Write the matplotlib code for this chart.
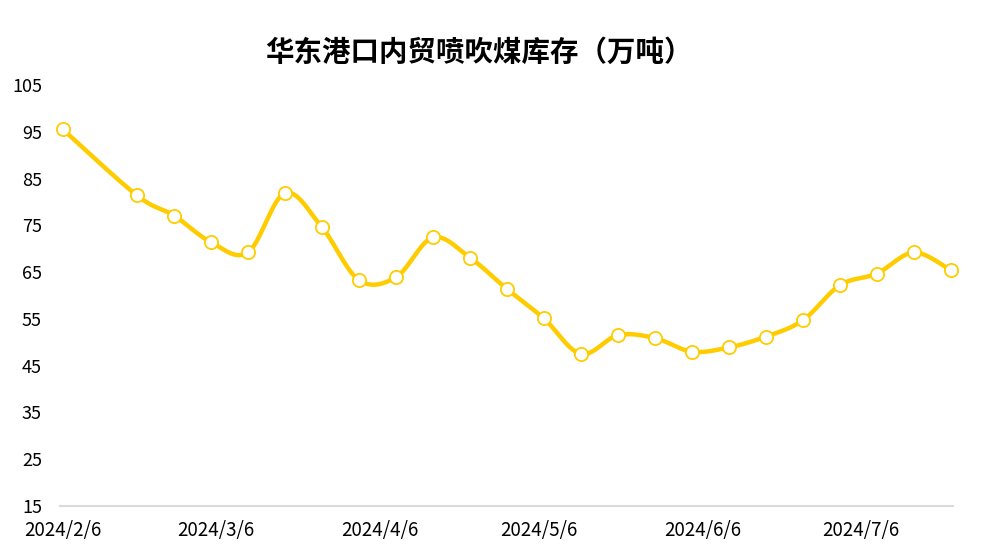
import numpy as np
import pandas as pd
import matplotlib
matplotlib.use("Agg")
import matplotlib.pyplot as plt
import matplotlib.dates as mdates
from matplotlib.ticker import FuncFormatter

plt.rcParams['font.family'] = ['Noto Sans CJK SC', 'DejaVu Sans']

# weekly stock data (10k tonnes)
dates = ["2024-02-06", "2024-02-20", "2024-02-27", "2024-03-05", "2024-03-12",
         "2024-03-19", "2024-03-26", "2024-04-02", "2024-04-09", "2024-04-16",
         "2024-04-23", "2024-04-30", "2024-05-07", "2024-05-14", "2024-05-21",
         "2024-05-28", "2024-06-04", "2024-06-11", "2024-06-18", "2024-06-25",
         "2024-07-02", "2024-07-09", "2024-07-16", "2024-07-23"]
stock = [95.5, 81.4, 77.1, 71.4, 69.2, 81.9, 74.6, 63.3, 63.9, 72.4,
         68.1, 61.4, 55.1, 47.5, 51.5, 50.9, 48.0, 48.9, 51.2, 54.7,
         62.2, 64.7, 69.2, 65.4]
y_ticks = [15, 25, 35, 45, 55, 65, 75, 85, 95, 105]
title = "华东港口内贸喷吹煤库存（万吨）"

x = mdates.date2num(pd.to_datetime(dates))
y = np.array(stock)

# smooth line like excel (catmull-rom)
xs, ys = [], []
n = len(x)
for i in range(n - 1):
    p0 = (x[max(i - 1, 0)], y[max(i - 1, 0)])
    p1 = (x[i], y[i])
    p2 = (x[i + 1], y[i + 1])
    p3 = (x[min(i + 2, n - 1)], y[min(i + 2, n - 1)])
    c1 = (p1[0] + (p2[0] - p0[0]) / 6, p1[1] + (p2[1] - p0[1]) / 6)
    c2 = (p2[0] - (p3[0] - p1[0]) / 6, p2[1] - (p3[1] - p1[1]) / 6)
    t = np.linspace(0, 1, 30)
    for a, b in [(0, xs), (1, ys)]:
        b.extend((1 - t) ** 3 * p1[a] + 3 * (1 - t) ** 2 * t * c1[a]
                 + 3 * (1 - t) * t ** 2 * c2[a] + t ** 3 * p2[a])

fig = plt.figure(figsize=(9.93, 5.53), dpi=100)
ax = fig.add_axes([60 / 993, 1 - 506 / 553, 893 / 993, 421 / 553])

gold = "#FFCC00"
ax.plot(xs, ys, color=gold, linewidth=3.2, solid_capstyle='round', zorder=2, clip_on=False)
ax.plot(x, y, linestyle='none', marker='o', markersize=9.5, clip_on=False,
        markerfacecolor='white', markeredgecolor=gold, markeredgewidth=1.3, zorder=3)

ax.set_xlim(x[0] - 0.55, x[-1] + 0.4)
ax.set_ylim(15, 105)
ax.set_yticks(y_ticks)

ax.xaxis.set_major_locator(mdates.MonthLocator(bymonthday=6))
ax.xaxis.set_major_formatter(FuncFormatter(
    lambda v, p: "{d.year}/{d.month}/{d.day}".format(d=mdates.num2date(v))))

for s in ['top', 'right', 'left']:
    ax.spines[s].set_visible(False)
ax.spines['bottom'].set_color('#D9D9D9')
ax.spines['bottom'].set_linewidth(1.5)

ax.tick_params(axis='both', length=0, labelsize=13, colors='black')
ax.tick_params(axis='x', labelsize=13.5, pad=10)
ax.tick_params(axis='y', pad=13)

fig.text(0.4825, 0.905, title, ha='center', va='center', fontsize=20.5, fontweight='bold')

fig.savefig("out.png", dpi=100)
